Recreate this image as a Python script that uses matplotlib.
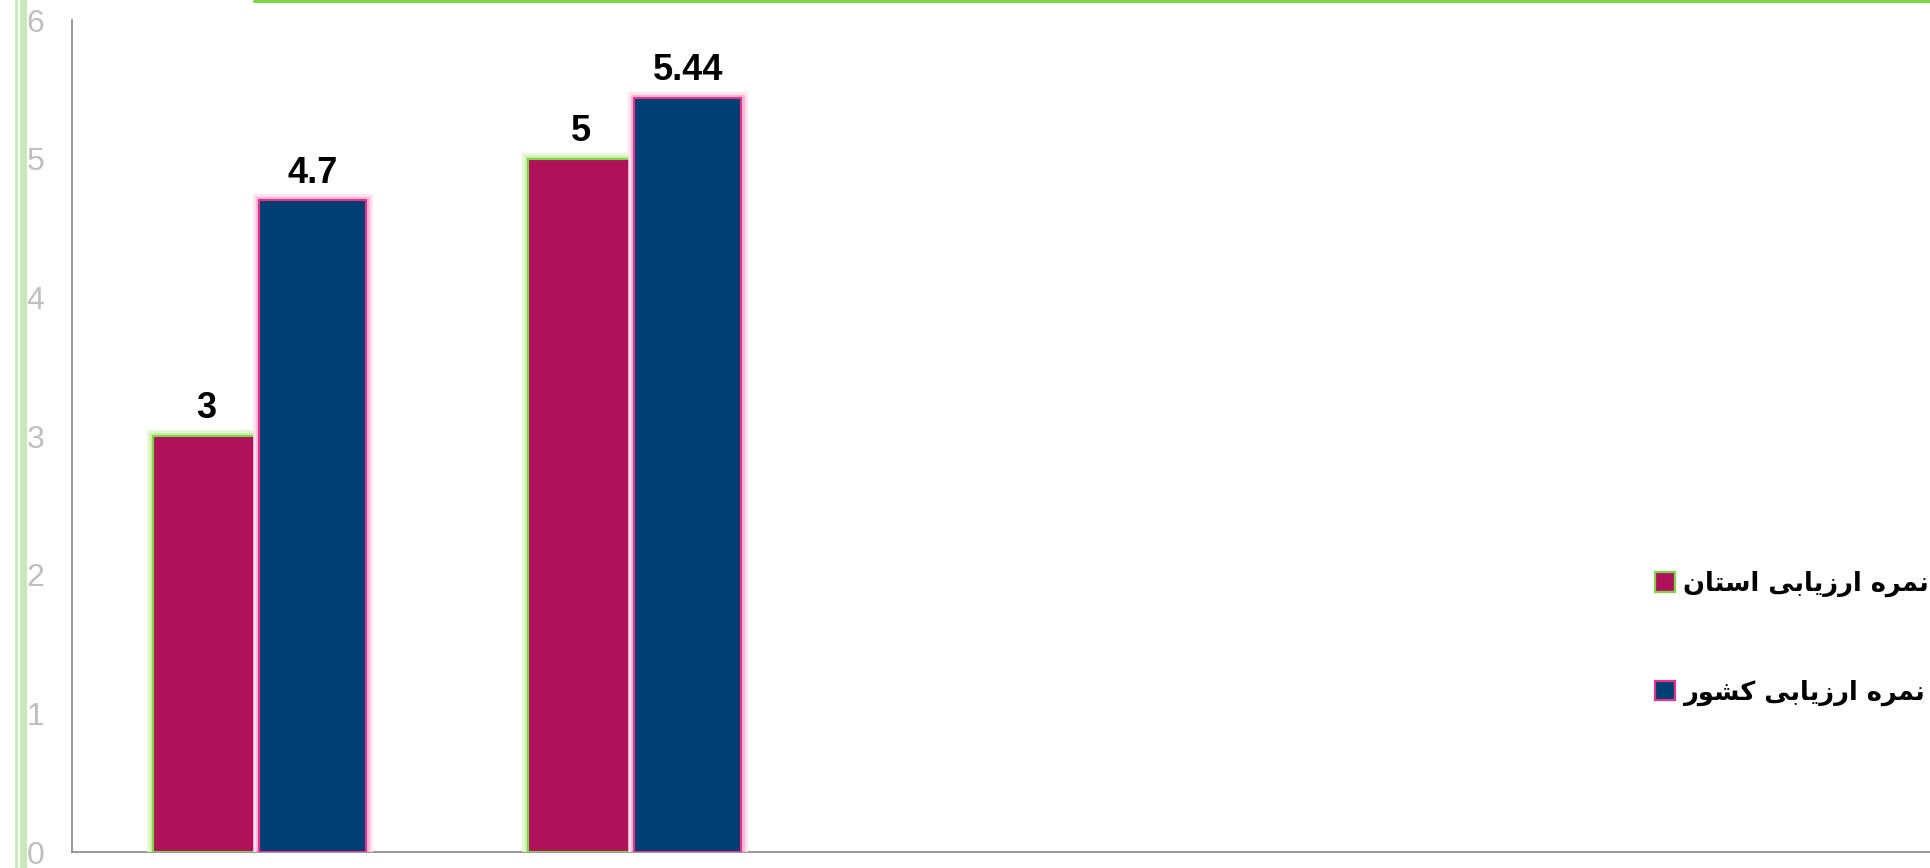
import matplotlib.pyplot as plt
import matplotlib.patheffects as pe
from matplotlib.lines import Line2D
from matplotlib.patches import Patch
import numpy as np

# data
groups = [0, 1]
ostan_values = [3, 5]
keshvar_values = [4.7, 5.44]
ostan_labels = ['3', '5']
keshvar_labels = ['4.7', '5.44']
y_ticks = [0, 1, 2, 3, 4, 5, 6]

# persian legend text, shaped by hand because matplotlib has no arabic shaping
FORMS = {
    'ا': ('\uFE8D', '\uFE8E', None, None),
    'ب': ('\uFE8F', '\uFE90', '\uFE91', '\uFE92'),
    'ت': ('\uFE95', '\uFE96', '\uFE97', '\uFE98'),
    'ر': ('\uFEAD', '\uFEAE', None, None),
    'ز': ('\uFEAF', '\uFEB0', None, None),
    'س': ('\uFEB1', '\uFEB2', '\uFEB3', '\uFEB4'),
    'ش': ('\uFEB5', '\uFEB6', '\uFEB7', '\uFEB8'),
    'م': ('\uFEE1', '\uFEE2', '\uFEE3', '\uFEE4'),
    'ن': ('\uFEE5', '\uFEE6', '\uFEE7', '\uFEE8'),
    'ه': ('\uFEE9', '\uFEEA', '\uFEEB', '\uFEEC'),
    'و': ('\uFEED', '\uFEEE', None, None),
    'ی': ('\uFBFC', '\uFBFD', '\uFBFE', '\uFBFF'),
    'ک': ('\uFB8E', '\uFB8F', '\uFB90', '\uFB91'),
}


def shape_fa(text):
    out = []
    for i, ch in enumerate(text):
        if ch not in FORMS:
            out.append(ch)
            continue
        prev = text[i - 1] if i > 0 else ''
        nxt = text[i + 1] if i + 1 < len(text) else ''
        join_prev = prev in FORMS and FORMS[prev][2] is not None
        join_next = nxt in FORMS and FORMS[ch][2] is not None
        iso, fin, ini, med = FORMS[ch]
        if join_prev and join_next:
            out.append(med)
        elif join_prev:
            out.append(fin)
        elif join_next:
            out.append(ini)
        else:
            out.append(iso)
    return ''.join(out)[::-1]


legend_names = ['نمره ارزیابی استان', 'نمره ارزیابی کشور']

magenta = '#B0125A'
navy = '#003F74'
green_edge = '#7ED348'
pink_edge = '#E8338A'

W, H = 1931, 868
fig = plt.figure(figsize=(W / 100, H / 100), dpi=100)
ax = fig.add_axes([72 / W, 16 / H, (W - 72) / W, 832 / H])

bar_w = 0.285
x = np.array(groups)

b1 = ax.bar(x - bar_w / 2, ostan_values, bar_w, color=magenta,
            edgecolor=green_edge, linewidth=1.5, zorder=3)
b2 = ax.bar(x + bar_w / 2, keshvar_values, bar_w, color=navy,
            edgecolor=pink_edge, linewidth=1.5, zorder=3)

for r in b1:
    r.set_path_effects([pe.Stroke(linewidth=9, foreground='#E4F8CF'),
                        pe.Stroke(linewidth=5, foreground='#C9F0A4'),
                        pe.Normal()])
for r in b2:
    r.set_path_effects([pe.Stroke(linewidth=9, foreground='#FFE0EE'),
                        pe.Stroke(linewidth=5, foreground='#FFB6D6'),
                        pe.Normal()])

for bars, labels in [(b1, ostan_labels), (b2, keshvar_labels)]:
    for r, lab in zip(bars, labels):
        ax.annotate(lab, (r.get_x() + r.get_width() / 2, r.get_height()),
                    xytext=(0, 7), textcoords='offset points',
                    ha='center', va='bottom', fontsize=26, fontweight='bold',
                    family='Liberation Sans', color='black', zorder=5)

ax.set_ylim(0, 6)
ax.set_xlim(-0.5, -0.5 + (W - 72) / 375)
ax.set_yticks(y_ticks)
ax.set_yticklabels([str(t) for t in y_ticks], fontsize=23,
                   family='Liberation Sans', color='#BFBFBF')
ax.tick_params(axis='y', length=0, pad=20)
ax.set_xticks([])
for s in ['top', 'right']:
    ax.spines[s].set_visible(False)
for s in ['left', 'bottom']:
    ax.spines[s].set_color('#868686')
    ax.spines[s].set_linewidth(1.2)
ax.patch.set_alpha(0)

# slide decorations
fig.add_artist(Line2D([16 / W, 16 / W], [0, 1], transform=fig.transFigure,
                      color='#C7E9B7', linewidth=1.8, zorder=-1))
fig.add_artist(Line2D([23.5 / W, 23.5 / W], [0, 1], transform=fig.transFigure,
                      color='#C7E9B7', linewidth=5, zorder=-1))
fig.add_artist(Line2D([254 / W, 1], [1 - 1.2 / H, 1 - 1.2 / H],
                      transform=fig.transFigure, color=green_edge,
                      linewidth=2.2, solid_capstyle='round', zorder=-1))

handles = [Patch(facecolor=magenta, edgecolor=green_edge, linewidth=1.6),
           Patch(facecolor=navy, edgecolor=pink_edge, linewidth=1.6)]
fig.legend(handles, [shape_fa(t) for t in legend_names],
           loc='upper left', bbox_to_anchor=(1655 / W, 1 - 571 / H),
           frameon=False, borderpad=0, borderaxespad=0,
           handlelength=0.78, handleheight=0.78, handletextpad=0.3,
           labelspacing=3.2,
           prop={'family': 'DejaVu Sans', 'weight': 'bold', 'size': 18.5})

fig.savefig('out.png', dpi=100)
